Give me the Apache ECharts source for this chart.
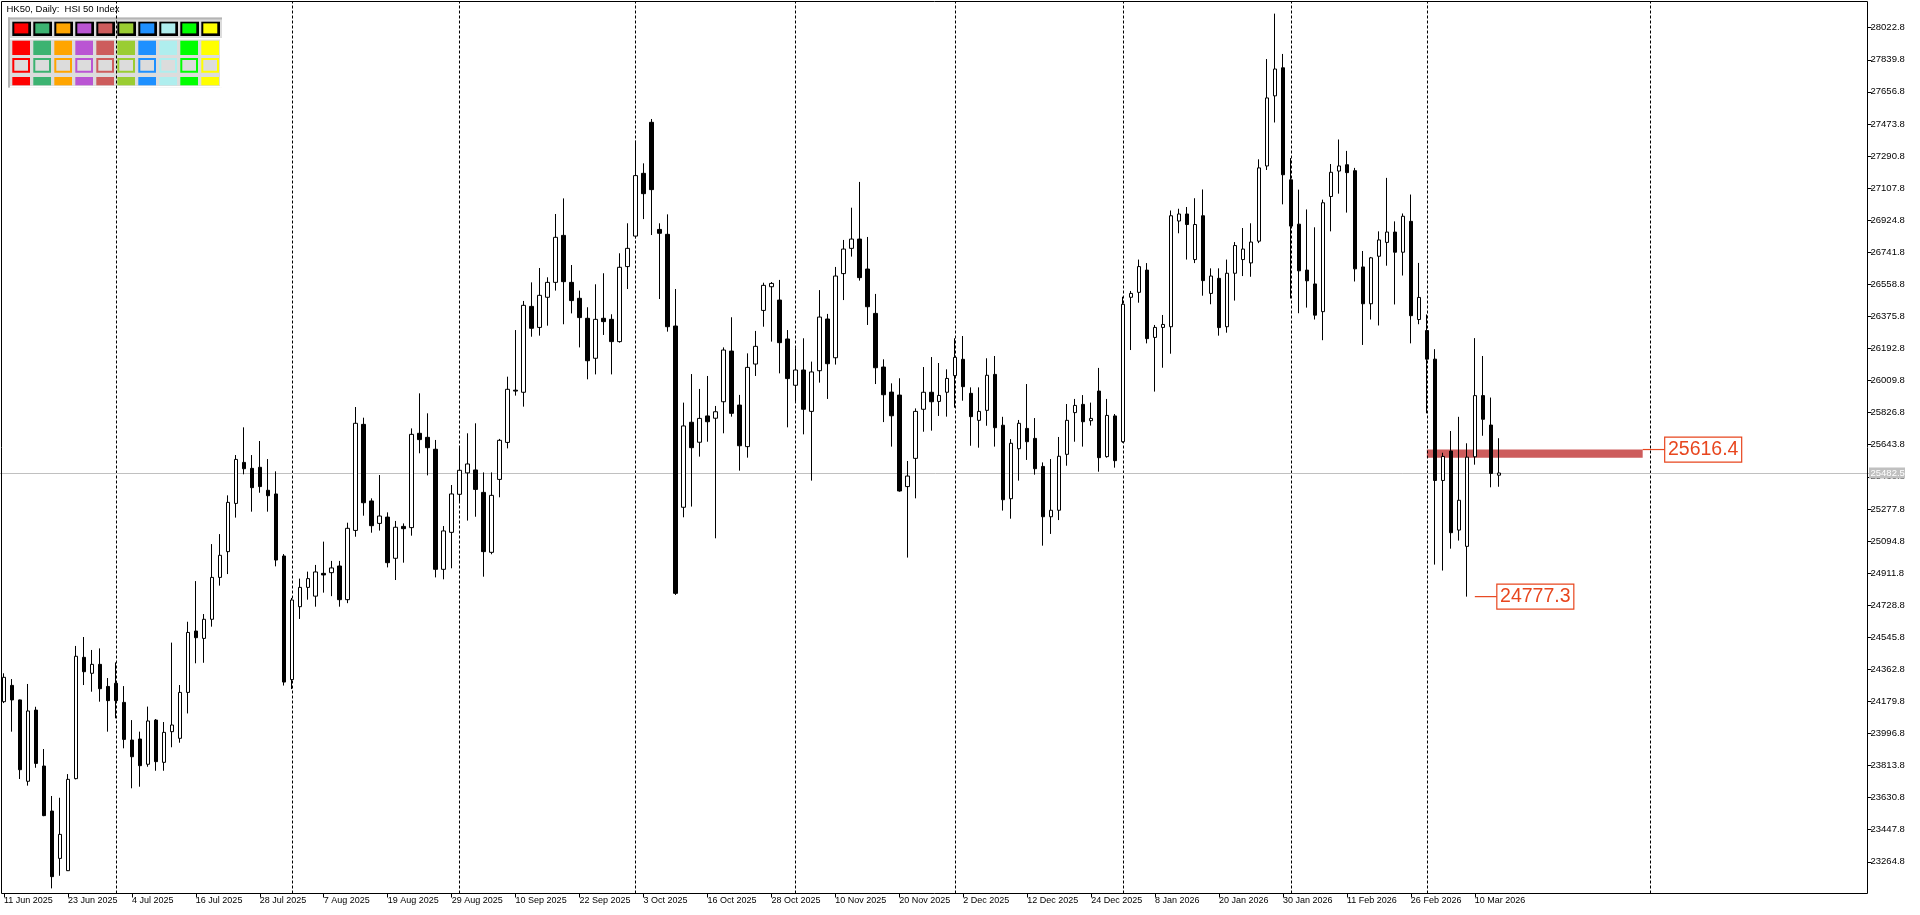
<!DOCTYPE html>
<html><head><meta charset="utf-8">
<script src="https://cdn.jsdelivr.net/npm/echarts@6/dist/echarts.min.js"></script>
<style>html,body{margin:0;padding:0;background:#fff;overflow:hidden}#c{width:1920px;height:915px}</style>
</head><body><div id="c"></div>
<script>
// ---------------- data ----------------
const symbolTitle = 'HK50, Daily:  HSI 50 Index';
const firstDay = [2025, 5, 11]; // 11 Jun 2025
const holidays = ['2025-07-01','2025-10-01','2025-10-07','2025-10-29','2025-12-25','2025-12-26','2026-01-01','2026-02-17','2026-02-18','2026-02-19'];
// [open, high, low, close]
const candles = [
[24178,24340,24170,24317],[24271,24307,24007,24188],[24188,24190,23737,23790],[23724,24279,23699,24125],
[24130,24149,23801,23826],[23811,23908,23525,23528],[23554,23640,23113,23180],[23284,23630,23185,23421],
[23214,23765,23212,23735],[23739,24496,23735,24437],[24431,24547,24273,24349],[24340,24473,24235,24391],
[24391,24482,24178,24252],[24265,24313,24007,24184],[24283,24402,24083,24184],[24174,24267,23912,23963],
[23959,24073,23684,23864],[23965,24007,23693,23813],[23821,24150,23807,24068],[24073,24079,23784,23836],
[23832,24062,23784,24003],[24007,24515,23918,24045],[23969,24273,23944,24231],[24231,24634,24111,24573],
[24581,24866,24397,24543],[24539,24678,24400,24648],[24648,25077,24606,24887],[24887,25134,24840,25013],
[25034,25355,24906,25315],[25309,25585,25228,25560],[25543,25743,25475,25507],[25509,25585,25262,25399],
[25515,25665,25370,25405],[25384,25562,25262,25353],[25363,25492,24950,24986],[25009,25020,24270,24290],
[24304,24770,24250,24758],[24720,24880,24650,24830],[24830,24920,24760,24880],[24780,24958,24720,24918],
[24910,25091,24800,24901],[24914,24981,24780,24941],[24952,24981,24720,24760],[24760,25199,24740,25167],
[25155,25859,25119,25766],[25760,25798,25239,25313],[25323,25338,25142,25182],[25195,25471,25154,25237],
[25231,25258,24944,24971],[24996,25209,24872,25173],[25178,25195,24971,25165],[25171,25737,25125,25703],
[25709,25937,25595,25673],[25686,25823,25469,25627],[25618,25671,24887,24933],[24933,25180,24876,25152],
[25144,25414,24939,25363],[25361,25637,25319,25498],[25483,25709,25211,25534],[25500,25766,25233,25389],
[25372,25486,24891,25034],[25030,25486,25019,25355],[25446,25677,25344,25669],[25657,26032,25623,25960],
[25955,26298,25924,25950],[25943,26464,25861,26439],[26433,26570,26260,26308],[26313,26652,26266,26496],
[26485,26599,26323,26570],[26570,26960,26523,26827],[26838,27049,26331,26574],[26570,26669,26393,26466],
[26479,26523,26199,26369],[26365,26428,26017,26123],[26137,26559,26045,26359],[26365,26622,26270,26346],
[26359,26388,26045,26232],[26232,26736,26226,26656],[26660,26907,26532,26764],[26834,27378,26821,27179],
[27192,27249,26931,27076],[27483,27502,26840,27099],[26872,26907,26475,26850],[26844,26958,26289,26317],
[26321,26532,24787,24796],[25287,25884,25230,25751],[25772,26047,25291,25627],[25658,25962,25576,25794],
[25808,26036,25661,25775],[25795,25865,25110,25832],[25889,26199,25709,26184],[26178,26371,25804,25823],
[25870,25928,25496,25638],[25633,26165,25570,26085],[26104,26293,26036,26205],[26410,26568,26317,26553],
[26545,26572,26232,26564],[26469,26584,26051,26226],[26247,26298,25743,26021],[25983,26194,25889,26070],
[26070,26251,25703,25846],[25834,26118,25439,26059],[26066,26526,25998,26372],[26361,26390,25905,26106],
[26140,26658,26101,26606],[26620,26812,26469,26760],[26764,26996,26717,26817],[26817,27143,26580,26597],
[26646,26829,26327,26431],[26393,26504,25990,26083],[26087,26131,25773,25929],[25944,25994,25633,25809],
[25927,26023,25376,25380],[25405,25551,25000,25465],[25566,25851,25338,25834],[25846,26087,25718,25943],
[25943,26144,25724,25889],[25891,26110,25808,25925],[25943,26074,25804,26022],[26038,26251,25855,26142],
[26131,26264,25895,25975],[25937,25971,25638,25804],[25783,25971,25627,25834],[25840,26137,25752,26040],
[26045,26150,25633,25741],[25755,25803,25268,25330],[25336,25676,25222,25652],[25621,25785,25439,25766],
[25737,25990,25557,25661],[25680,25796,25473,25507],[25520,25543,25068,25233],[25233,25562,25135,25270],
[25270,25688,25214,25578],[25589,25876,25524,25783],[25827,25905,25661,25868],[25874,25927,25633,25775],
[25781,25884,25753,25794],[25950,26082,25490,25570],[25576,25905,25570,25811],[25808,25819,25513,25553],
[25661,26488,25655,26445],[26485,26521,26184,26507],[26513,26700,26454,26660],[26640,26680,26222,26249],
[26256,26327,25947,26313],[26313,26384,26083,26330],[26317,26980,26163,26950],[26920,26990,26850,26960],
[26960,27000,26700,26900],[26700,27050,26680,26900],[26950,27100,26494,26580],[26507,26650,26445,26606],
[26593,26650,26266,26312],[26317,26700,26283,26622],[26622,26800,26466,26780],[26700,26880,26606,26760],
[26681,26907,26602,26800],[26805,27272,26794,27223],[27234,27844,27211,27622],[27634,28103,27482,27787],
[27794,27873,27015,27184],[27155,27279,26478,26891],[26902,27099,26394,26636],[26640,26986,26426,26579],
[26561,26884,26358,26383],[26403,27042,26240,27024],[27060,27245,26861,27198],[27205,27385,27076,27234],
[27241,27320,26968,27196],[27207,27223,26575,26647],[26658,26749,26213,26448],[26448,26715,26358,26710],
[26719,26861,26324,26812],[26798,27166,26665,26857],[26857,26918,26444,26742],[26742,26963,26609,26947],
[26918,27071,26222,26380],[26358,26681,26331,26484],[26295,26387,25823,26132],[26132,26189,24960,25440],
[25440,25598,24926,25577],[25608,25722,25051,25142],[25157,25803,25097,25327],[25064,25652,24777.3,25573],
[25575,26252,25530,25924],[25924,26150,25695,25789],[25756,25913,25401,25480],[25470,25681,25404,25482.5]
];
const priceTicks = [23264.8,23447.8,23630.8,23813.8,23996.8,24179.8,24362.8,24545.8,24728.8,24911.8,25094.8,25277.8,25460.8,25643.8,25826.8,26009.8,26192.8,26375.8,26558.8,26741.8,26924.8,27107.8,27290.8,27473.8,27656.8,27839.8,28022.8];
const currentPrice = 25482.5;
const zoneTop = 25616.4, zoneBottom = 25570;
const zoneFrom = '2026-03-02', zoneTo = '2026-03-31';
const lowLabelDate = '2026-03-09', lowLabelPrice = 24777.3;
const paletteColors = ['#ff0000','#3cb371','#ffa500','#ba55d3','#cd5c5c','#9acd32','#1e90ff','#afeeee','#00ff00','#ffff00'];
const monthNames = ['Jan','Feb','Mar','Apr','May','Jun','Jul','Aug','Sep','Oct','Nov','Dec'];

// --------------- categories (trading days, then calendar days into the future) --------------
const slotCount = 234;
const iso = d => d.toISOString().slice(0, 10);
const categories = [];
(function () {
  const d = new Date(Date.UTC(firstDay[0], firstDay[1], firstDay[2]));
  while (categories.length < candles.length) {
    const wd = d.getUTCDay();
    if (wd !== 0 && wd !== 6 && holidays.indexOf(iso(d)) < 0) categories.push(iso(d));
    d.setUTCDate(d.getUTCDate() + 1);
  }
  while (categories.length < slotCount) { categories.push(iso(d)); d.setUTCDate(d.getUTCDate() + 1); }
})();
const monthStarts = categories.filter((c, i) => i > 0 && c.slice(5, 7) !== categories[i - 1].slice(5, 7));
const fmtDate = s => { const p = s.split('-'); return (+p[2]) + ' ' + monthNames[+p[1] - 1] + ' ' + p[0]; };
const showLabel = i => i % 8 === 0 && i < candles.length;

// --------------- chart ----------------
const FONT = 'Liberation Sans';
const chart = echarts.init(document.getElementById('c'), null, { renderer: 'canvas' });
const option = {
  animation: false,
  backgroundColor: '#ffffff',
  grid: { left: -1.5, right: 49.5, top: 1.5, bottom: 21.5, containLabel: false },
  xAxis: {
    type: 'category', data: categories, boundaryGap: true,
    axisLine: { show: false },
    axisTick: { show: true, alignWithLabel: true, length: 4, interval: showLabel, lineStyle: { color: '#000', width: 1 } },
    axisLabel: {
      interval: 0, align: 'left', margin: 3, fontSize: 9, fontFamily: FONT, color: '#000',
      showMaxLabel: false, showMinLabel: true, hideOverlap: false,
      formatter: (v, i) => showLabel(i) ? fmtDate(v) : ''
    },
    splitLine: { show: false }
  },
  yAxis: {
    type: 'value', position: 'right', offset: -3, min: 23083.8, max: 28172.2,
    axisLine: { show: false }, splitLine: { show: false },
    axisTick: { show: true, length: 4, customValues: priceTicks, lineStyle: { color: '#000', width: 1 } },
    axisLabel: { customValues: priceTicks, formatter: v => v.toFixed(1), margin: 3, fontSize: 9.5, fontFamily: FONT, color: '#000' }
  },
  series: [{
    type: 'line', name: 'separators', data: [], z: 2, silent: true,
    markLine: {
      z: 2, silent: true, symbol: ['none', 'none'], label: { show: false }, animation: false,
      data: monthStarts.map(c => ({ xAxis: c, lineStyle: { type: [3, 2], color: '#000', width: 1 } }))
        .concat([{ yAxis: currentPrice, lineStyle: { type: 'solid', color: '#c0c0c0', width: 1 } }])
    }
  }, {
    type: 'candlestick', name: 'HK50', z: 3,
    data: candles.map(c => [c[0], c[3], c[2], c[1]]),
    barWidth: 4,
    itemStyle: { color: '#ffffff', color0: '#000000', borderColor: '#000000', borderColor0: '#000000', borderWidth: 1 },
    emphasis: { disabled: true },
    silent: true
  }]
};
chart.setOption(option);

// --------------- graphics: frame, palette, annotations ----------------
const px = (cat, p) => chart.convertToPixel({ xAxisIndex: 0, yAxisIndex: 0 }, [categories.indexOf(cat), p]);
const g = [];
// frame
g.push({ type: 'rect', z: 5, shape: { x: 1.5, y: 1.5, width: 1866, height: 892 }, style: { fill: 'none', stroke: '#000', lineWidth: 1 } });
// title
g.push({ type: 'text', z: 5, x: 6.5, y: 9.5, style: { text: symbolTitle, font: '9.5px "' + FONT + '"', fill: '#000', textVerticalAlign: 'middle' } });
// palette panel
g.push({ type: 'rect', z: 1, shape: { x: 8, y: 17.5, width: 214, height: 70 }, style: { fill: '#dcdcdc' } });
g.push({ type: 'rect', z: 1, shape: { x: 8, y: 17.5, width: 214, height: 2 }, style: { fill: '#b4b4b4' } });
g.push({ type: 'rect', z: 1, shape: { x: 8, y: 17.5, width: 2, height: 70 }, style: { fill: '#b4b4b4' } });
g.push({ type: 'rect', z: 1, shape: { x: 10, y: 38, width: 212, height: 1.5 }, style: { fill: '#ffffff' } });
g.push({ type: 'rect', z: 1, shape: { x: 220, y: 38, width: 2, height: 49.5 }, style: { fill: '#ffffff' } });
g.push({ type: 'rect', z: 1, shape: { x: 10, y: 86, width: 212, height: 1.5 }, style: { fill: '#ffffff' } });
paletteColors.forEach((col, k) => {
  const x = 12.3 + 21 * k;
  g.push({ type: 'rect', z: 1, shape: { x: x, y: 21.7, width: 18.7, height: 14.3 }, style: { fill: '#000' } });
  g.push({ type: 'rect', z: 1, shape: { x: x + 2, y: 23.4, width: 14, height: 10 }, style: { fill: col } });
  g.push({ type: 'rect', z: 1, shape: { x: x, y: 40.7, width: 17.7, height: 14.3 }, style: { fill: col } });
  g.push({ type: 'rect', z: 1, shape: { x: x + 1, y: 59, width: 15.7, height: 12.7 }, style: { fill: '#dcdcdc', stroke: col, lineWidth: 2 } });
  g.push({ type: 'rect', z: 1, shape: { x: x, y: 77, width: 17.7, height: 8.3 }, style: { fill: col } });
});
// zone rectangle
const zA = px(zoneFrom, zoneTop), zB = px(zoneTo, zoneBottom);
g.push({ type: 'rect', z: 1, shape: { x: zA[0], y: zA[1], width: zB[0] - zA[0], height: zB[1] - zA[1] }, style: { fill: '#cd5c5c' } });
const ANN = '#e8461e';
function priceTag(x0, y0, lineLen, text) {
  g.push({ type: 'line', z: 3, shape: { x1: x0, y1: y0, x2: x0 + lineLen, y2: y0 }, style: { stroke: ANN, lineWidth: 1.2 } });
  g.push({ type: 'rect', z: 3, shape: { x: x0 + lineLen, y: y0 - 12.5, width: 77, height: 25 }, style: { fill: '#fff', stroke: ANN, lineWidth: 1.2 } });
  g.push({ type: 'text', z: 4, x: x0 + lineLen + 38.5, y: y0, style: { text: text, font: '19.5px "' + FONT + '"', fill: ANN, textAlign: 'center', textVerticalAlign: 'middle' } });
}
priceTag(zB[0], zA[1], 22, zoneTop.toFixed(1));
const lp = px(lowLabelDate, lowLabelPrice);
priceTag(lp[0] + 8, lp[1], 22, lowLabelPrice.toFixed(1));
// current price tag on axis
const cp = px(categories[0], currentPrice);
g.push({ type: 'rect', z: 6, shape: { x: 1869, y: cp[1] - 5.5, width: 36, height: 11 }, style: { fill: '#c0c0c0' } });
g.push({ type: 'text', z: 7, x: 1870.5, y: cp[1], style: { text: currentPrice.toFixed(1), font: '9.5px "' + FONT + '"', fill: '#ffffff', textVerticalAlign: 'middle' } });
chart.setOption({ graphic: { elements: g } });
</script></body></html>
